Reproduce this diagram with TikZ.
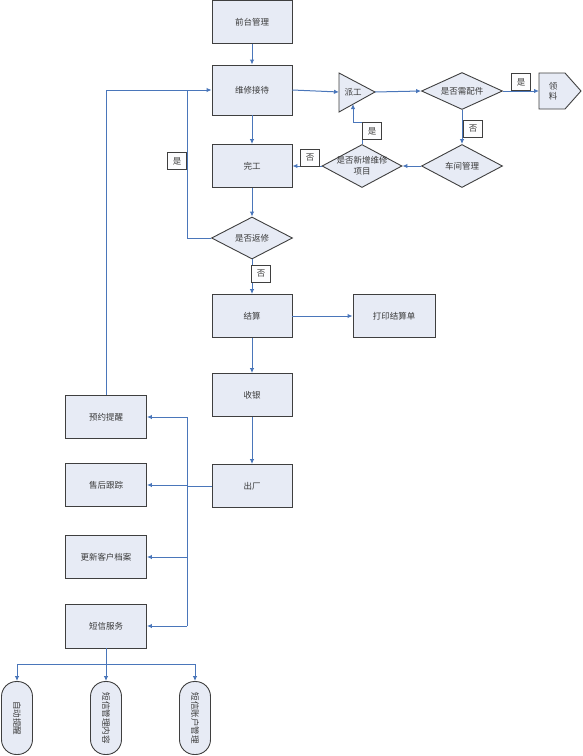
\documentclass[tikz,border=0pt]{standalone}
\usepackage{fontspec}
\setmainfont{Noto Sans CJK SC}
\usetikzlibrary{shapes.geometric,arrows.meta}
\definecolor{boxfill}{HTML}{E7EBF5}
\definecolor{boxline}{HTML}{3F3F3F}
\definecolor{conn}{HTML}{4A76BA}
\definecolor{txt}{HTML}{3A3A3A}
\begin{document}
\begin{tikzpicture}[x=1pt,y=-1pt,
  every node/.style={font=\fontsize{8.5}{10}\selectfont, text=txt},
  box/.style={draw=boxline, line width=0.9pt, fill=boxfill, minimum width=80pt, minimum height=43pt, inner sep=0pt},
  dia/.style={draw=boxline, line width=0.9pt, fill=boxfill, diamond, aspect=2, inner sep=-12pt, minimum width=81pt, minimum height=42pt, align=center},
  lbl/.style={draw=boxline, line width=0.8pt, fill=white!92!boxfill, minimum width=19pt, minimum height=17pt, inner sep=0pt},
  pill/.style={draw=boxline, line width=0.9pt, fill=boxfill, rounded corners=15pt, rotate=-90, minimum width=73pt, minimum height=31pt, inner sep=0pt},
  conline/.style={draw=conn, line width=1pt},
  arr/.style={conline, -{Latex[length=5pt,width=4.5pt]}}
]
\useasboundingbox (0,0) rectangle (582,756);

% main column
\node[box] (qt) at (252,22) {前台管理};
\node[box, minimum height=50pt] (jd) at (252,90) {维修接待};
\node[box] (wg) at (252,166) {完工};
\node[dia] (fx) at (252,238) {是否返修};
\node[box] (js) at (252,316) {结算};
\node[box, minimum width=82pt] (dy) at (394,316) {打印结算单};
\node[box] (sy) at (252,395) {收银};
\node[box] (cc) at (252,486) {出厂};

% left column
\node[box, minimum width=81pt] (yy) at (106,417) {预约提醒};
\node[box, minimum width=81pt] (sh) at (106,485) {售后跟踪};
\node[box, minimum width=81pt] (gx) at (106,557) {更新客户档案};
\node[box, minimum width=81pt, minimum height=44pt] (dx) at (106,626) {短信服务};

% bottom pills (rotated: west anchor is the top)
\node[pill] (zd) at (17,718) {自动提醒};
\node[pill] (nr) at (106,718) {短信管理内容};
\node[pill] (zh) at (195,718) {短信账户管理};

% right side
\draw[draw=boxline, line width=0.9pt, fill=boxfill] (339,73) -- (375,92) -- (339,112) -- cycle;
\coordinate (pgL) at (339,92);
\coordinate (pgT) at (375,92);
\coordinate (pgB) at (353,104);
\node[inner sep=0pt] (pg) at (353,92) {派工};
\node[dia, minimum height=37pt] (pj) at (462,91) {是否需配件};
\draw[draw=boxline, line width=0.9pt, fill=boxfill] (539,73) -- (565,73) -- (581,91) -- (565,109) -- (539,109) -- cycle;
\node[align=center, inner sep=0pt] (ll) at (553,91) {领\\料};
\coordinate (llW) at (539,91);
\node[dia, minimum height=43pt] (cj) at (462,166) {车间管理};
\node[dia, minimum width=80pt, minimum height=43pt, font=\fontsize{8.5}{11}\selectfont] (xz) at (362,166) {是否新增维修\\项目};

% connectors main
\draw[arr] (qt.south) -- (jd.north);
\draw[arr] (jd.south) -- (wg.north);
\draw[arr] (wg.south) -- (fx.north);
\draw[arr] (fx.south) -- (js.north);
\draw[arr] (js.east) -- (dy.west);
\draw[arr] (js.south) -- (sy.north);
\draw[arr] (sy.south) -- (cc.north);

% bus to left column
\coordinate (b1) at (187,417);
\coordinate (b4) at (187,626);
\draw[conline] (b1) -- (b4);
\draw[conline] (cc.west) -- (cc.west -| b1);
\draw[arr] (b1) -- (yy.east);
\draw[arr] (sh.east -| b1) -- (sh.east);
\draw[arr] (gx.east -| b1) -- (gx.east);
\draw[arr] (b4) -- (dx.east);

% loops back to jd
\draw[arr] (yy.north) |- (jd.west);
\draw[conline] (fx.west) -| (jd.west -| b1);

% bottom branch
\coordinate (hb) at (106,664);
\draw[arr] (dx.south) -- (nr.west);
\draw[conline] (zd.west |- hb) -- (zh.west |- hb);
\draw[arr] (zd.west |- hb) -- (zd.west);
\draw[arr] (zh.west |- hb) -- (zh.west);

% right flow
\draw[arr] (jd.east) -- (pgL);
\draw[arr] (pgT) -- (pj.west);
\draw[arr] (pj.east) -- (llW);
\draw[arr] (pj.south) -- (cj.north);
\draw[arr] (cj.west) -- (xz.east);
\draw[arr] (xz.west) -- (wg.east);
\coordinate (k1) at (362,122);
\coordinate (k2) at (353,122);
\draw[arr] (xz.north) -- (k1) -- (k2) -- (pgB);

% labels
\node[lbl] (l1) at (521,82) {是};
\node[lbl] (l2) at (473,129) {否};
\node[lbl] (l3) at (372,131) {是};
\node[lbl] (l4) at (310,158) {否};
\node[lbl] (l5) at (177,161) {是};
\node[lbl] (l6) at (261,274) {否};
\end{tikzpicture}
\end{document}
